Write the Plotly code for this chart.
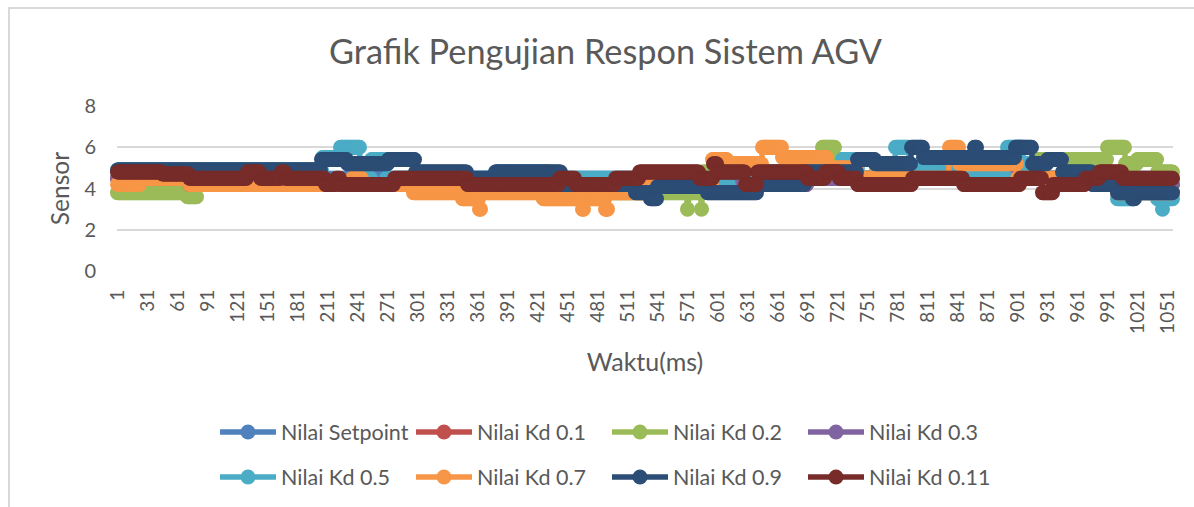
import numpy as np
import plotly.graph_objects as go

n_points = 1056
title = "Grafik Pengujian Respon Sistem AGV"
x_title = "Waktu(ms)"
y_title = "Sensor"
tick_x = list(range(1, 1052, 30))
tick_y = [0, 2, 4, 6, 8]

names = ["Nilai Setpoint", "Nilai Kd 0.1", "Nilai Kd 0.2", "Nilai Kd 0.3",
         "Nilai Kd 0.5", "Nilai Kd 0.7", "Nilai Kd 0.9", "Nilai Kd 0.11"]
colors = ["#4F81BD", "#C0504D", "#9BBB59", "#8064A2",
          "#4BACC6", "#F79646", "#2C4D75", "#772C2A"]

# run-length readings: the last sample of each run, and the run's value
setpoint_ends = [1056]
setpoint_vals = [4.5]
kd01_ends = [72, 690, 1000, 1056]
kd01_vals = [4.5, 4.2, 4.5, 4.2]
kd02_ends = [70, 80, 330, 425, 450, 570, 571, 584, 585, 705, 718, 755, 860, 905, 920, 990, 1008, 1020, 1040, 1056]
kd02_vals = [3.8, 3.6, 4.2, 4.2, 3.6, 3.8, 3, 3.8, 3, 4.8, 6, 5.4, 4.5, 4.8, 5.2, 5.4, 6, 5.2, 5.4, 4.8]
kd03_ends = [72, 690, 1000, 1056]
kd03_vals = [4.5, 4.2, 4.5, 4.2]
kd05_ends = [205, 223, 243, 254, 269, 285, 378, 432, 600, 612, 725, 745, 778, 792, 830, 850, 890, 906, 930, 1000, 1016, 1040, 1045, 1046, 1056]
kd05_vals = [4.9, 5.5, 6, 4.5, 5.4, 4.5, 4.5, 4.8, 4.5, 4.2, 4.8, 5.4, 4.5, 6, 5.0, 4.8, 4.5, 6, 5.2, 4.5, 3.5, 3.8, 3.5, 3, 3.5]
kd07_ends = [23, 72, 235, 245, 296, 345, 362, 364, 426, 465, 467, 488, 491, 530, 595, 610, 645, 665, 710, 740, 832, 842, 900, 1000, 1018, 1056]
kd07_vals = [4.2, 4.5, 4.2, 4.5, 4.2, 3.8, 3.5, 3, 3.8, 3.5, 3, 3.5, 3, 3.8, 4.2, 5.4, 5.2, 6, 5.5, 5.0, 4.5, 6, 5.2, 4.5, 3.8, 3.8]
kd09_ends = [204, 230, 271, 298, 350, 378, 444, 518, 533, 540, 590, 640, 688, 740, 758, 794, 806, 857, 860, 898, 915, 930, 945, 975, 1000, 1015, 1018, 1056]
kd09_vals = [4.9, 5.4, 5.2, 5.4, 4.8, 4.5, 4.8, 4.2, 3.8, 3.5, 4.1, 3.8, 4.2, 4.8, 5.4, 5.2, 6, 5.5, 6, 5.5, 6, 5.2, 5.4, 4.8, 4.2, 3.8, 3.5, 3.8]
kd011_ends = [45, 72, 130, 143, 164, 168, 208, 219, 223, 277, 350, 383, 442, 458, 498, 522, 582, 596, 600, 628, 640, 690, 708, 722, 740, 795, 846, 903, 925, 936, 968, 982, 1005, 1056]
kd011_vals = [4.8, 4.7, 4.5, 4.8, 4.5, 4.8, 4.5, 4.2, 4.5, 4.2, 4.5, 4.2, 4.2, 4.5, 4.2, 4.5, 4.8, 4.5, 5.2, 4.8, 4.2, 4.8, 4.5, 4.8, 4.5, 4.2, 4.5, 4.2, 4.5, 3.8, 4.2, 4.5, 4.8, 4.5]

ends = [setpoint_ends, kd01_ends, kd02_ends, kd03_ends, kd05_ends, kd07_ends, kd09_ends, kd011_ends]
vals = [setpoint_vals, kd01_vals, kd02_vals, kd03_vals, kd05_vals, kd07_vals, kd09_vals, kd011_vals]

FONT = "Lato"
GREY = "#595959"
W, H = 1194, 507
L, R, T, B = 117, 1173, 106, 272
xs = np.arange(1, n_points + 1)

fig = go.Figure()
for i, name in enumerate(names):
    counts = np.diff([0] + ends[i])
    ys = np.repeat(vals[i], counts)
    fig.add_trace(go.Scatter(
        x=xs, y=ys, name=name, mode="lines+markers",
        line=dict(color=colors[i], width=5.5),
        marker=dict(color=colors[i], size=15),
        cliponaxis=False,
        legend="legend" if i < 4 else "legend2",
    ))


def legend_at(px, py):
    return dict(
        orientation="h", x=(px - L) / (R - L), y=(B - py) / (B - T),
        xanchor="left", yanchor="middle", itemwidth=56,
        entrywidth=125, entrywidthmode="pixels", itemclick=False,
        font=dict(family=FONT, size=21.5, color=GREY), bgcolor="rgba(0,0,0,0)",
        tracegroupgap=0,
    )


frame = dict(type="rect", xref="paper", yref="paper",
             x0=(9 - L) / (R - L), x1=(1300 - L) / (R - L),
             y0=(B - 530) / (B - T), y1=(B - 7.5) / (B - T),
             line=dict(color="#D9D9D9", width=2), layer="below")

fig.update_layout(
    width=W, height=H, autosize=False,
    margin=dict(l=L, r=W - R, t=T, b=H - B),
    paper_bgcolor="white", plot_bgcolor="white",
    font=dict(family=FONT, color=GREY),
    title=dict(text=title, x=605.5 / W, xanchor="center", y=1 - 52 / H, yanchor="middle",
               font=dict(family=FONT, size=34.3, color=GREY)),
    xaxis=dict(range=[0.5, n_points + 0.5], tickmode="array", tickvals=tick_x,
               ticktext=[str(v) for v in tick_x], tickangle=-90, showgrid=False,
               zeroline=False, showline=False, ticks="", ticklabelstandoff=14,
               tickfont=dict(family=FONT, size=19, color=GREY),
               title=dict(text=x_title, font=dict(family=FONT, size=25, color=GREY), standoff=20)),
    yaxis=dict(range=[0, 8], tickmode="array", tickvals=tick_y, showgrid=True,
               gridcolor="#D9D9D9", gridwidth=2, zeroline=False, showline=False,
               ticks="", ticklabelstandoff=20,
               tickfont=dict(family=FONT, size=20, color=GREY),
               title=dict(text=y_title, font=dict(family=FONT, size=24.5, color=GREY), standoff=7)),
    legend=legend_at(215, 432),
    legend2=legend_at(215, 477),
    shapes=[frame],
    showlegend=True,
)

fig.write_html("out.html", config={"displayModeBar": False},
               post_script="document.body.style.margin='0';document.body.style.overflow='hidden';")
